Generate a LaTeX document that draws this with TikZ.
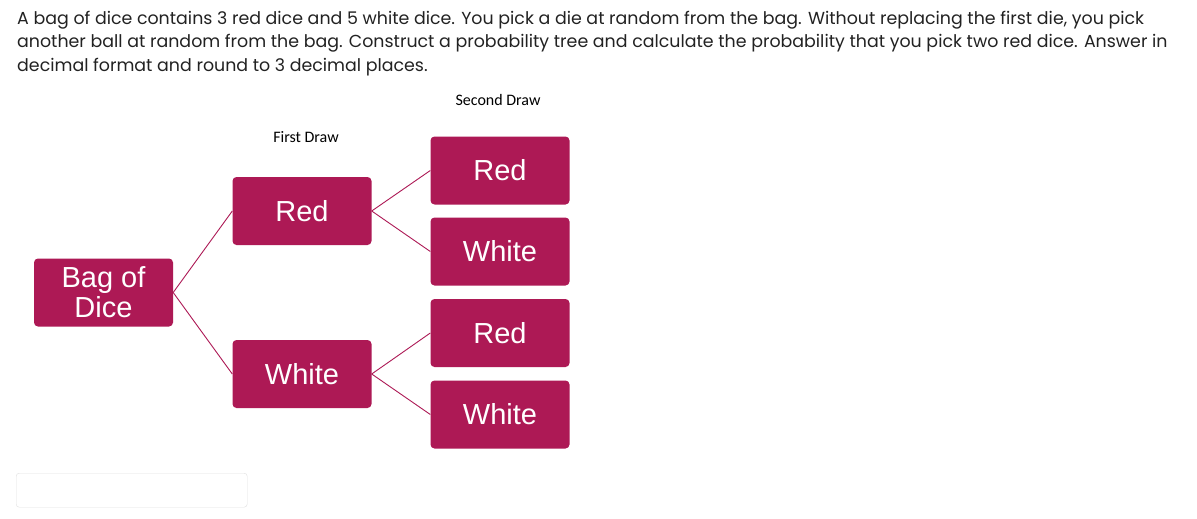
\documentclass[tikz,border=0pt]{standalone}
\usepackage{fontspec}
\setmainfont{Liberation Sans}
\newfontfamily\questionfont{Poppins}
\newfontfamily\labelfont{Carlito}
\definecolor{berry}{RGB}{173,25,85}
\definecolor{inktext}{RGB}{34,34,34}
\definecolor{fieldline}{RGB}{224,224,224}
\tikzset{
  box/.style={fill=berry, rounded corners=4pt, minimum width=139pt, minimum height=68pt,
    inner sep=0pt, text=white, align=center, font=\fontsize{29}{30}\selectfont},
  branch/.style={draw=berry, line width=0.9pt},
  heading/.style={font=\labelfont\fontsize{16}{18}\selectfont, inner sep=0pt},
  question/.style={anchor=base west, inner sep=0pt, text=inktext,
    font=\questionfont\fontsize{17.4}{23}\selectfont},
}
\begin{document}
\begin{tikzpicture}[x=1pt,y=-1pt]
  \useasboundingbox[fill=white] (0,0) rectangle (1197,519);
  \node[question] (line1) at (17,25) {A bag of dice contains 3 red dice and 5 white dice. You pick a die at random from the bag. Without replacing the first die, you pick};
  \node[question] (line2) at (17,48) {another ball at random from the bag. Construct a probability tree and calculate the probability that you pick two red dice. Answer in};
  \node[question] (line3) at (17,71) {decimal format and round to 3 decimal places.};
  \node[heading] (second) at (498,100) {Second Draw};
  \node[heading] (first) at (306,137) {First Draw};
  \draw
    (103.5,292.5) node[box] (bag){Bag of\\Dice}
    (302,211) node[box] (r){Red}
    (302,374) node[box] (w){White}
    (500,170.5) node[box] (rr){Red}
    (500,251.5) node[box] (rw){White}
    (500,333) node[box] (wr){Red}
    (500,414.5) node[box] (ww){White};
  \begin{scope}[branch]
    \draw (bag.east) to (r.west);
    \draw (bag.east) to (w.west);
    \draw (r.east) to (rr.west);
    \draw (r.east) to (rw.west);
    \draw (w.east) to (wr.west);
    \draw (w.east) to (ww.west);
  \end{scope}
  \node[draw=fieldline, rounded corners=3pt, minimum width=231pt, minimum height=34pt,
    inner sep=0pt, anchor=north west] (answer) at (16,473) {};
\end{tikzpicture}
\end{document}
